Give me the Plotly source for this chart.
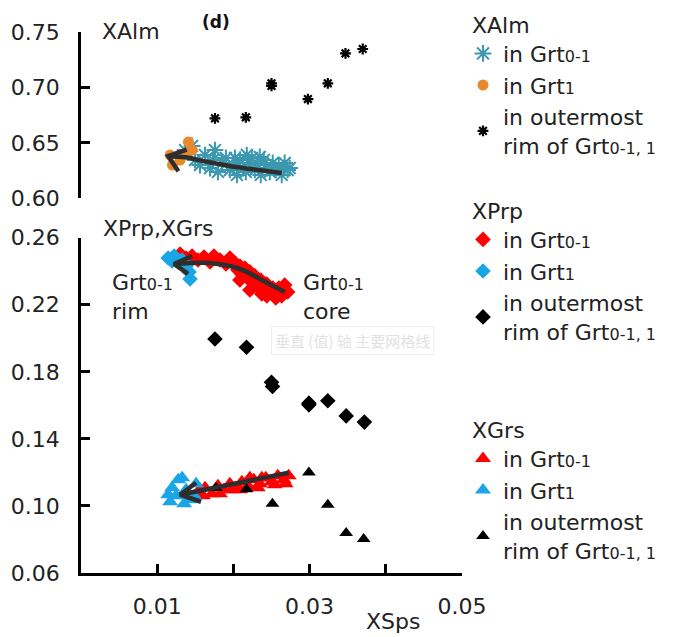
import plotly.graph_objects as go

# ---------------- data: XSps vs end-member fractions ----------------
# XAlm
alm_core_x = [0.01366, 0.01458, 0.01497, 0.01562, 0.01627, 0.01693, 0.01732, 0.01797,
              0.01850, 0.01902, 0.01954, 0.01993, 0.02046, 0.02085, 0.02124, 0.02163,
              0.02203, 0.02242, 0.02281, 0.02320, 0.02359, 0.02399, 0.02438, 0.02477,
              0.02516, 0.02556, 0.02595, 0.02634, 0.02673, 0.02712, 0.02739, 0.02176,
              0.02346, 0.02020, 0.01758]
alm_core_y = [0.6436, 0.6473, 0.6346, 0.6301, 0.6391, 0.6274, 0.6346, 0.6238,
              0.6319, 0.6364, 0.6256, 0.6301, 0.6211, 0.6346, 0.6274, 0.6238,
              0.6319, 0.6364, 0.6256, 0.6301, 0.6211, 0.6346, 0.6274, 0.6238,
              0.6319, 0.6256, 0.6292, 0.6211, 0.6319, 0.6256, 0.6274, 0.6391,
              0.6373, 0.6364, 0.6436]
alm_grt1_x = [0.0117, 0.0120, 0.0141, 0.0146, 0.0130, 0.0137]
alm_grt1_y = [0.6391, 0.6301, 0.6509, 0.6436, 0.6346, 0.6409]
alm_rim_x = [0.01758, 0.02163, 0.02500, 0.02500, 0.02978, 0.03239, 0.03471, 0.03697]
alm_rim_y = [0.6722, 0.6732, 0.7039, 0.7015, 0.6897, 0.7039, 0.7310, 0.7349]

# XPrp
prp_core_x = [0.01301, 0.01379, 0.01458, 0.01536, 0.01614, 0.01693, 0.01745, 0.01824,
              0.01902, 0.01954, 0.02020, 0.02059, 0.02085, 0.02111, 0.02150, 0.02190,
              0.02216, 0.02242, 0.02281, 0.02320, 0.02359, 0.02373, 0.02399, 0.02438,
              0.02477, 0.02516, 0.02556, 0.02595, 0.02634, 0.02673, 0.02712, 0.02085,
              0.02216, 0.02438, 0.02556]
prp_core_y = [0.2503, 0.2479, 0.2491, 0.2467, 0.2485, 0.2455, 0.2491, 0.2467,
              0.2443, 0.2479, 0.2449, 0.2408, 0.2431, 0.2384, 0.2419, 0.2360,
              0.2396, 0.2336, 0.2372, 0.2312, 0.2348, 0.2264, 0.2300, 0.2324,
              0.2288, 0.2300, 0.2276, 0.2300, 0.2253, 0.2318, 0.2276, 0.2348,
              0.2288, 0.2253, 0.2241]
prp_grt1_x = [0.01144, 0.01222, 0.01275, 0.01327, 0.01379, 0.01418, 0.01431, 0.01196]
prp_grt1_y = [0.2479, 0.2491, 0.2455, 0.2467, 0.2431, 0.2396, 0.2354, 0.2461]
prp_rim_x = [0.01758, 0.02172, 0.02500, 0.02513, 0.02991, 0.02991, 0.03239, 0.03480, 0.03719]
prp_rim_y = [0.1996, 0.1947, 0.1738, 0.1712, 0.1613, 0.1603, 0.1627, 0.1537, 0.1500]

# XGrs
grs_core_x = [0.01536, 0.01627, 0.01719, 0.01797, 0.01876, 0.01954, 0.02033, 0.02111,
              0.02190, 0.02268, 0.02346, 0.02425, 0.02503, 0.02582, 0.02660, 0.02725,
              0.01601, 0.01824, 0.02085, 0.02320, 0.02542, 0.02686, 0.02373, 0.02216,
              0.01980]
grs_core_y = [0.1085, 0.1108, 0.1073, 0.1120, 0.1096, 0.1132, 0.1108, 0.1144,
              0.1120, 0.1156, 0.1132, 0.1168, 0.1144, 0.1180, 0.1156, 0.1180,
              0.1061, 0.1073, 0.1096, 0.1108, 0.1126, 0.1132, 0.1168, 0.1168,
              0.1096]
grs_grt1_x = [0.01196, 0.01275, 0.01327, 0.01379, 0.01248, 0.01170, 0.01431, 0.01510,
              0.01484, 0.01353, 0.01144]
grs_grt1_y = [0.1108, 0.1156, 0.1168, 0.1096, 0.1061, 0.1025, 0.1037, 0.1132,
              0.1061, 0.1013, 0.1067]
grs_rim_x = [0.01771, 0.02173, 0.02512, 0.02991, 0.03239, 0.03480, 0.03710]
grs_rim_y = [0.1107, 0.1100, 0.1013, 0.1200, 0.1007, 0.0838, 0.0803]

# core -> rim trend arrows (shaft path, then the two barbs meeting at the tip)
alm_trend_x = [0.02634, 0.02063, 0.01627, 0.01366, 0.01144]
alm_trend_y = [0.6229, 0.6280, 0.6334, 0.6370, 0.6380]
alm_head_x = [0.01388, 0.01144, 0.01278]
alm_head_y = [0.6440, 0.6380, 0.6245]

prp_trend_x = [0.02673, 0.02373, 0.02150, 0.01954, 0.01693, 0.01431, 0.01222]
prp_trend_y = [0.2276, 0.2348, 0.2402, 0.2431, 0.2449, 0.2449, 0.2443]
prp_head_x = [0.01458, 0.01222, 0.01405]
prp_head_y = [0.2491, 0.2443, 0.2384]

grs_trend_x = [0.02725, 0.01301]
grs_trend_y = [0.1198, 0.1067]
grs_head_x = [0.01510, 0.01301, 0.01575]
grs_head_y = [0.1138, 0.1067, 0.1025]

x_ticks = [0.01, 0.02, 0.03, 0.04, 0.05]
x_tick_text = ["0.01", "", "0.03", "", "0.05"]
alm_ticks = [0.60, 0.65, 0.70, 0.75]
pg_ticks = [0.06, 0.10, 0.14, 0.18, 0.22, 0.26]

# ---------------- styling ----------------
FONT = "DejaVu Sans"
TEAL = "#3b98b0"
ORANGE = "#e8892e"
RED = "#ff0000"
BLUE = "#1aa6e6"
BLACK = "#000000"
ARROW = "#2e2e2e"


def sub(s):
    return "<span style='font-size:16px'>" + s + "</span>"


LBL_CORE = "in Grt" + sub("0-1")
LBL_G1 = "in Grt" + sub("1")
LBL_RIM = "in outermost<br>rim of Grt" + sub("0-1, 1")

W, H = 678, 637
ML, MB = 81, 64


def px_x(p):
    return (p - ML) / (W - ML)


def px_y(p):
    return (H - MB - p) / (H - MB)


fig = go.Figure()

# XAlm panel (top)
fig.add_trace(go.Scatter(x=alm_core_x, y=alm_core_y, mode="markers", xaxis="x2", yaxis="y2",
                         name=LBL_CORE, legend="legend",
                         marker=dict(symbol="asterisk-open", size=14, color=TEAL,
                                     line=dict(color=TEAL, width=2))))
fig.add_trace(go.Scatter(x=alm_grt1_x, y=alm_grt1_y, mode="markers", xaxis="x2", yaxis="y2",
                         name=LBL_G1, legend="legend",
                         marker=dict(symbol="circle", size=11, color=ORANGE)))
fig.add_trace(go.Scatter(x=alm_rim_x, y=alm_rim_y, mode="markers", xaxis="x2", yaxis="y2",
                         name=LBL_RIM, legend="legend",
                         marker=dict(symbol="asterisk-open", size=9, color=BLACK,
                                     line=dict(color=BLACK, width=2.2))))

# XPrp (bottom)
fig.add_trace(go.Scatter(x=prp_core_x, y=prp_core_y, mode="markers",
                         name=LBL_CORE, legend="legend2",
                         marker=dict(symbol="diamond", size=12, color=RED)))
fig.add_trace(go.Scatter(x=prp_grt1_x, y=prp_grt1_y, mode="markers",
                         name=LBL_G1, legend="legend2",
                         marker=dict(symbol="diamond", size=12, color=BLUE)))
fig.add_trace(go.Scatter(x=prp_rim_x, y=prp_rim_y, mode="markers",
                         name=LBL_RIM, legend="legend2",
                         marker=dict(symbol="diamond", size=12, color=BLACK)))

# XGrs (bottom)
fig.add_trace(go.Scatter(x=grs_core_x, y=grs_core_y, mode="markers",
                         name=LBL_CORE, legend="legend3",
                         marker=dict(symbol="triangle-up", size=14, color=RED)))
fig.add_trace(go.Scatter(x=grs_grt1_x, y=grs_grt1_y, mode="markers",
                         name=LBL_G1, legend="legend3",
                         marker=dict(symbol="triangle-up", size=14, color=BLUE)))
fig.add_trace(go.Scatter(x=grs_rim_x, y=grs_rim_y, mode="markers",
                         name=LBL_RIM, legend="legend3",
                         marker=dict(symbol="triangle-up", size=12, color=BLACK)))

# trend arrows
arrow_line = dict(color=ARROW, width=4.5, shape="spline", smoothing=1.0)
head_line = dict(color=ARROW, width=4.5)
for tx, ty, hx, hy, xa, ya in [
    (alm_trend_x, alm_trend_y, alm_head_x, alm_head_y, "x2", "y2"),
    (prp_trend_x, prp_trend_y, prp_head_x, prp_head_y, "x", "y"),
    (grs_trend_x, grs_trend_y, grs_head_x, grs_head_y, "x", "y"),
]:
    fig.add_trace(go.Scatter(x=tx, y=ty, mode="lines", line=arrow_line, xaxis=xa, yaxis=ya,
                             showlegend=False, hoverinfo="skip"))
    fig.add_trace(go.Scatter(x=hx, y=hy, mode="lines", line=head_line, xaxis=xa, yaxis=ya,
                             showlegend=False, hoverinfo="skip"))

x_dom = [0, px_x(462)]
axis_common = dict(showgrid=False, zeroline=False, showline=True, linecolor="black",
                   linewidth=2.5, ticks="inside", ticklen=9, tickwidth=2.5,
                   tickcolor="black", tickfont=dict(family=FONT, size=22, color="#222"))

legend_font = dict(family=FONT, size=22, color="#222")


def legend_box(top_px, title):
    return dict(x=px_x(463), y=px_y(top_px), xanchor="left", yanchor="top",
                bgcolor="rgba(0,0,0,0)", font=legend_font,
                title=dict(text="\u00a0" + title, font=legend_font),
                tracegroupgap=0, itemclick=False)


fig.update_layout(
    width=W, height=H,
    margin=dict(l=ML, r=0, t=0, b=MB, autoexpand=False),
    paper_bgcolor="white", plot_bgcolor="white",
    font=dict(family=FONT, size=22, color="#222"),
    xaxis=dict(domain=x_dom, range=[0, 0.05], tickvals=x_ticks, ticktext=x_tick_text,
               ticklabelstandoff=12, anchor="y", **axis_common),
    yaxis=dict(domain=[0, px_y(237.7)], range=[0.06, 0.26], tickvals=pg_ticks,
               tickformat=".2f", ticklabelstandoff=14, anchor="x", **axis_common),
    xaxis2=dict(domain=x_dom, range=[0, 0.05], anchor="y2", visible=False),
    yaxis2=dict(domain=[px_y(198.3), px_y(32.3)], range=[0.60, 0.75], tickvals=alm_ticks,
                tickformat=".2f", ticklabelstandoff=14, anchor="x2", **axis_common),
    legend=legend_box(4, "XAlm"),
    legend2=legend_box(190, "XPrp"),
    legend3=legend_box(409, "XGrs"),
)

ann_font = dict(family=FONT, size=22, color="#222")
fig.add_annotation(x=px_x(100), y=px_y(31), xref="paper", yref="paper", text="XAlm",
                   showarrow=False, xanchor="left", yanchor="middle", font=ann_font)
fig.add_annotation(x=px_x(216), y=px_y(22), xref="paper", yref="paper", text="<b>(d)</b>",
                   showarrow=False, xanchor="center", yanchor="middle",
                   font=dict(family=FONT, size=17, color="#111"))
fig.add_annotation(x=px_x(101), y=px_y(228), xref="paper", yref="paper", text="XPrp,XGrs",
                   showarrow=False, xanchor="left", yanchor="middle", font=ann_font)
fig.add_annotation(x=px_x(110), y=px_y(268), xref="paper", yref="paper",
                   text="Grt" + sub("0-1") + "<br>rim", align="left",
                   showarrow=False, xanchor="left", yanchor="top", font=ann_font)
fig.add_annotation(x=px_x(301), y=px_y(268), xref="paper", yref="paper",
                   text="Grt" + sub("0-1") + "<br>core", align="left",
                   showarrow=False, xanchor="left", yanchor="top", font=ann_font)
fig.add_annotation(x=px_x(352), y=px_y(340), xref="paper", yref="paper",
                   text="垂直 (值) 轴 主要网格线", showarrow=False,
                   xanchor="center", yanchor="middle", bordercolor="#eeeeee", borderwidth=1,
                   borderpad=3,
                   font=dict(family="Noto Sans CJK SC", size=15, color="#e2e2e2"))
fig.add_annotation(x=px_x(393), y=px_y(621), xref="paper", yref="paper", text="XSps",
                   showarrow=False, xanchor="center", yanchor="middle", font=ann_font)

fig.write_html("out.html")
